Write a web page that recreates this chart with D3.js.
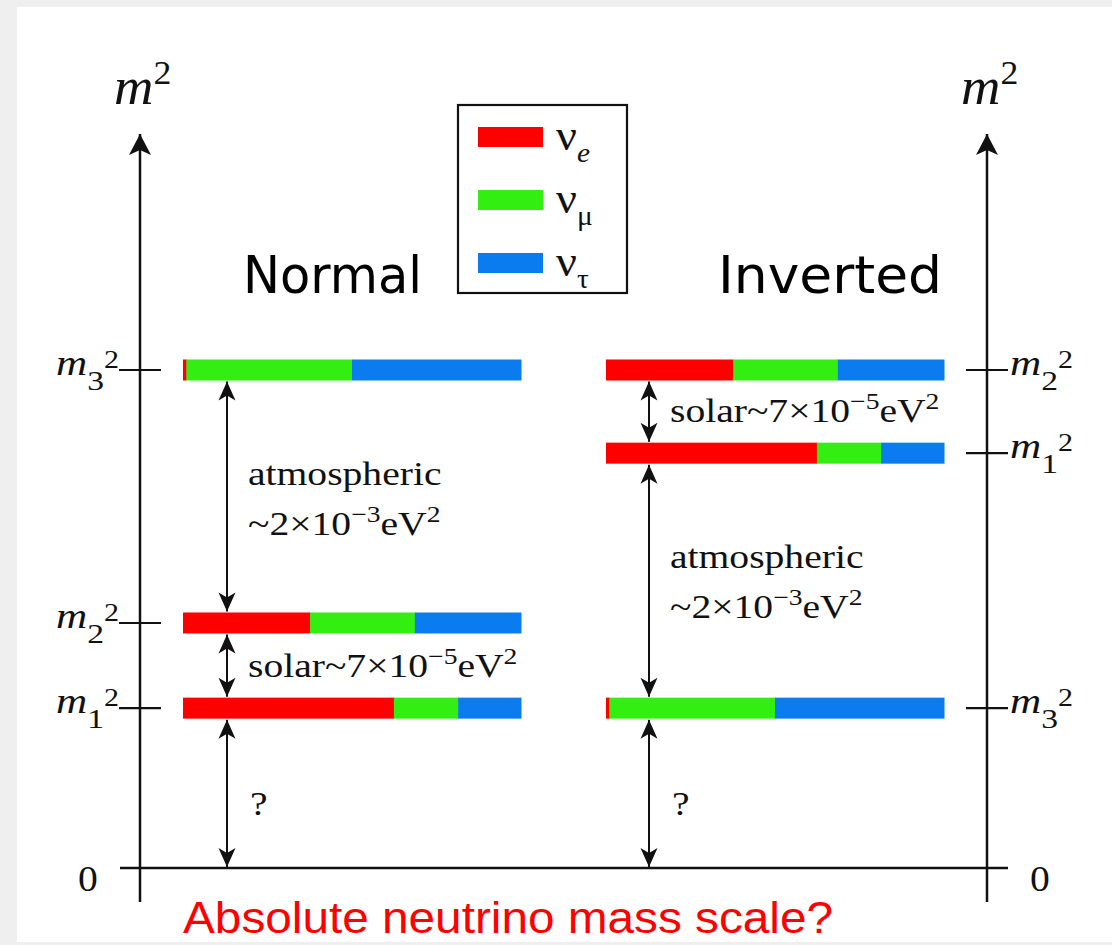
<!DOCTYPE html>
<html>
<head>
<meta charset="utf-8">
<script src="https://cdn.jsdelivr.net/npm/d3@7"></script>
<style>
  body { margin: 0; background: #efefef; }
  svg { display: block; }
</style>
</head>
<body>
<div id="chart"></div>
<script>
// data: flavours, mixing and the schematic mass levels
const flavorSubs = ['e', 'μ', 'τ'];
const flavorColors = ['#ff0000', '#33ee11', '#0a7cf0'];

// flavour content of each mass state (share of the bar)
const nu1Mix = [0.624, 0.190, 0.186];
const nu2Mix = [0.376, 0.310, 0.314];
const nu3Mix = [0.010, 0.490, 0.500];
const stateMix = [nu1Mix, nu2Mix, nu3Mix];
const stateSubs = ['1', '2', '3'];

// schematic m^2 of states 1,2,3 (zero = bottom line)
const normalLevels = [0.321, 0.492, 1.0];
const invertedLevels = [0.833, 1.0, 0.321];

// splittings drawn as double arrows: [upper state, lower state] (-1 = zero)
const normalGaps = [[2, 1], [1, 0], [0, -1]];
const invertedGaps = [[1, 0], [0, 2], [2, -1]];

// section 1: canvas
const svgWidth = 1112;
const svgHeight = 945;
const serif = '"Liberation Serif", "Times New Roman", serif';
const sx = 1.2; // the original figure is stretched sideways

const svg = d3.select('#chart').append('svg')
    .attr('width', svgWidth).attr('height', svgHeight);

svg.append('rect').attr('width', svgWidth).attr('height', svgHeight).attr('fill', '#efefef');
svg.append('rect').attr('x', 17).attr('y', 7).attr('width', svgWidth - 17).attr('height', 935).attr('fill', '#fff');

const defs = svg.append('defs');
defs.append('marker')
    .attr('id', 'head').attr('markerUnits', 'userSpaceOnUse')
    .attr('viewBox', '-20 -10 22 20').attr('refX', 0).attr('refY', 0)
    .attr('markerWidth', 22).attr('markerHeight', 20)
    .attr('orient', 'auto-start-reverse')
    .append('path').attr('d', 'M0,0 L-19,-8.5 L-14,0 L-19,8.5 Z').attr('fill', '#111');
defs.append('marker')
    .attr('id', 'bighead').attr('markerUnits', 'userSpaceOnUse')
    .attr('viewBox', '-22 -12 24 24').attr('refX', 0).attr('refY', 0)
    .attr('markerWidth', 24).attr('markerHeight', 24)
    .attr('orient', 'auto-start-reverse')
    .append('path').attr('d', 'M0,0 L-21,-11 L-16,0 L-21,11 Z').attr('fill', '#111');

// section 2: scales
const y = d3.scaleLinear().domain([0, 1]).range([868, 370]);
const xNormal = d3.scaleLinear().domain([0, 1]).range([183, 521]);
const xInverted = d3.scaleLinear().domain([0, 1]).range([606, 944]);
const axisLeftX = 140;
const axisRightX = 987;
const barH = 21;

// stretched text helper
function label(x, yy, anchor, size, build, scale = sx) {
    const g = svg.append('g').attr('transform', `translate(${x},${yy}) scale(${scale},1)`);
    const t = g.append('text').attr('text-anchor', anchor)
        .attr('font-family', serif).attr('font-size', size).attr('fill', '#111');
    build(t);
    return t;
}

function massLabel(t, sub) {
    t.append('tspan').attr('font-style', 'italic').attr('font-size', 36).text('m');
    t.append('tspan').attr('font-size', 28).attr('dy', 15).text(sub);
    t.append('tspan').attr('font-size', 25).attr('dy', -22).text('2');
}

function sciText(t, pre, mant, exp, unit) {
    t.append('tspan').text(pre + mant + '×10');
    t.append('tspan').attr('font-size', 23).attr('dy', -13).text(exp);
    t.append('tspan').attr('dy', 13).text(unit);
    t.append('tspan').attr('font-size', 23).attr('dy', -13).text('2');
}

// section 3: axes
[axisLeftX, axisRightX].forEach(ax => {
    svg.append('line')
        .attr('x1', ax).attr('x2', ax).attr('y1', 902).attr('y2', 134)
        .attr('stroke', '#111').attr('stroke-width', 2.5)
        .attr('marker-end', 'url(#bighead)');
    label(ax - 26, 104, 'start', 52, t => {
        t.append('tspan').attr('font-style', 'italic').text('m');
        t.append('tspan').attr('font-size', 34).attr('dy', -20).text('2');
    }, 1.05);
});

svg.append('line')
    .attr('x1', 120).attr('x2', 1008).attr('y1', y(0)).attr('y2', y(0))
    .attr('stroke', '#111').attr('stroke-width', 2.5);
label(88, y(0) + 23, 'middle', 36, t => t.text('0'), 1.1);
label(1040, y(0) + 23, 'middle', 36, t => t.text('0'), 1.1);

function drawScheme(levels, gaps, xs, axisX, side, arrowX) {
    // tick marks across the axis
    svg.append('g').selectAll('line').data(levels).join('line')
        .attr('x1', axisX - 21).attr('x2', axisX + 21)
        .attr('y1', d => y(d)).attr('y2', d => y(d))
        .attr('stroke', '#111').attr('stroke-width', 2.2);

    levels.forEach((lv, i) => {
        if (side === 'left') {
            label(axisX - 21, y(lv) + 5, 'end', 34, t => massLabel(t, stateSubs[i]));
        } else {
            label(axisX + 23, y(lv) + 5, 'start', 34, t => massLabel(t, stateSubs[i]));
        }
        // stacked flavour bar
        let start = 0;
        const segs = stateMix[i].map((f, k) => {
            const s = {x0: start, x1: start + f, k: k};
            start += f;
            return s;
        });
        svg.append('g').selectAll('rect').data(segs).join('rect')
            .attr('x', d => xs(d.x0))
            .attr('width', d => xs(d.x1) - xs(d.x0) + 0.5)
            .attr('y', y(lv) - barH / 2)
            .attr('height', barH)
            .attr('fill', d => flavorColors[d.k]);
    });

    gaps.forEach(([hi, lo]) => {
        const yTop = y(levels[hi]) + barH / 2 + 1;
        const yBot = lo < 0 ? y(0) - 1 : y(levels[lo]) - barH / 2 - 1;
        svg.append('line')
            .attr('x1', arrowX).attr('x2', arrowX)
            .attr('y1', yTop).attr('y2', yBot)
            .attr('stroke', '#111').attr('stroke-width', 2)
            .attr('marker-start', 'url(#head)')
            .attr('marker-end', 'url(#head)');
    });
}

drawScheme(normalLevels, normalGaps, xNormal, axisLeftX, 'left', 227);
drawScheme(invertedLevels, invertedGaps, xInverted, axisRightX, 'right', 649);

// section 4: annotations
label(248, 485, 'start', 33, t => t.text('atmospheric'));
label(248, 535, 'start', 33, t => sciText(t, '~', '2', '−3', 'eV'));
label(248, 677, 'start', 33, t => sciText(t, 'solar~', '7', '−5', 'eV'));
label(250, 815, 'start', 33, t => t.text('?'));

label(670, 422, 'start', 33, t => sciText(t, 'solar~', '7', '−5', 'eV'));
label(670, 568, 'start', 33, t => t.text('atmospheric'));
label(670, 618, 'start', 33, t => sciText(t, '~', '2', '−3', 'eV'));
label(672, 815, 'start', 33, t => t.text('?'));

// ordering titles
svg.append('text')
    .attr('x', 243).attr('y', 293)
    .attr('font-family', '"Comic Sans MS", "DejaVu Sans", sans-serif')
    .attr('font-size', 52).attr('fill', '#000')
    .attr('textLength', 179).attr('lengthAdjust', 'spacingAndGlyphs')
    .text('Normal');
svg.append('text')
    .attr('x', 718).attr('y', 293)
    .attr('font-family', '"Comic Sans MS", "DejaVu Sans", sans-serif')
    .attr('font-size', 52).attr('fill', '#000')
    .attr('textLength', 224).attr('lengthAdjust', 'spacingAndGlyphs')
    .text('Inverted');

// legend
const legend = svg.append('g');
legend.append('rect')
    .attr('x', 458).attr('y', 105).attr('width', 169).attr('height', 188)
    .attr('fill', '#fff').attr('stroke', '#111').attr('stroke-width', 2.2);
const legendY = d3.scaleLinear().domain([0, 2]).range([137, 263]);
legend.selectAll('rect.sw').data(flavorColors).join('rect')
    .attr('class', 'sw')
    .attr('x', 478).attr('width', 65)
    .attr('y', (d, i) => legendY(i) - 10).attr('height', 20)
    .attr('fill', d => d);
flavorSubs.forEach((s, i) => {
    label(556, legendY(i) + 13, 'start', 44, t => {
        t.append('tspan').text('ν');
        t.append('tspan').attr('font-size', 28).attr('dy', 12)
            .attr('font-style', i === 0 ? 'italic' : 'normal').text(s);
    }, 1.05);
});

// footer question
svg.append('text')
    .attr('x', 183).attr('y', 933)
    .attr('font-family', '"Liberation Sans", Arial, sans-serif')
    .attr('font-size', 45).attr('fill', '#ff0000')
    .attr('textLength', 650).attr('lengthAdjust', 'spacingAndGlyphs')
    .text('Absolute neutrino mass scale?');
</script>
</body>
</html>
